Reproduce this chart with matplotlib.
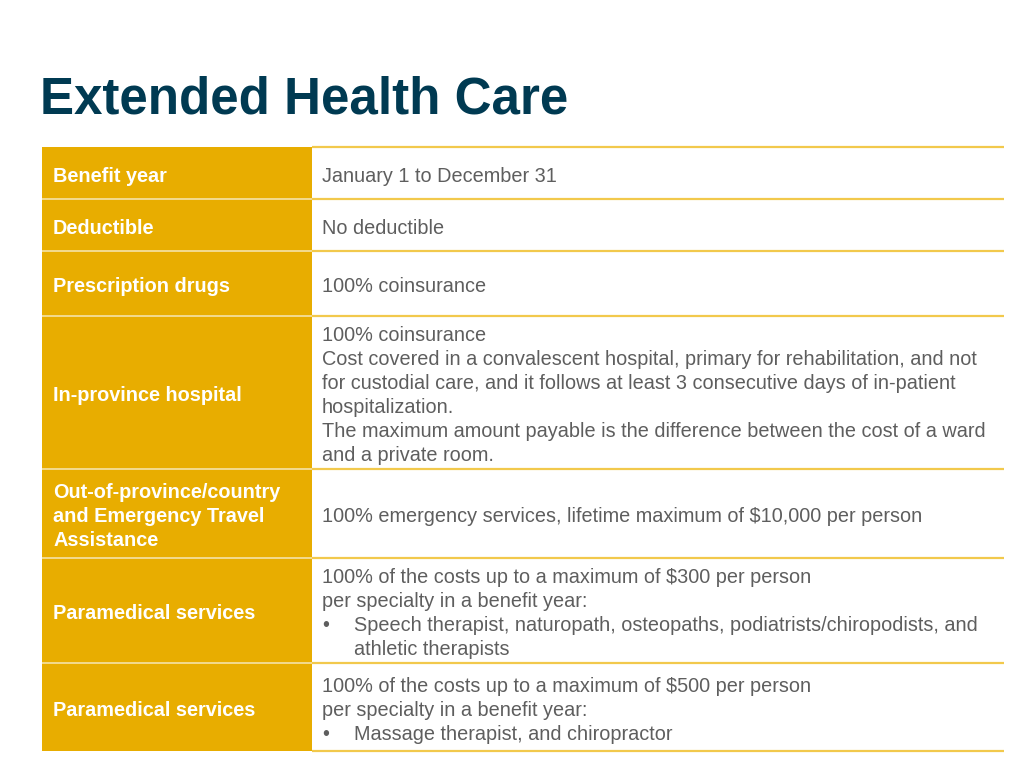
import matplotlib.pyplot as plt
from matplotlib.patches import Rectangle

plt.rcParams['font.family'] = ['Liberation Sans', 'DejaVu Sans']

title = "Extended Health Care"

labels = [
    ["Benefit year"],
    ["Deductible"],
    ["Prescription drugs"],
    ["In-province hospital"],
    ["Out-of-province/country", "and Emergency Travel", "Assistance"],
    ["Paramedical services"],
    ["Paramedical services"],
]

# each content line: (text, is_bullet); None = continuation of a bullet
contents = [
    [("January 1 to December 31", False)],
    [("No deductible", False)],
    [("100% coinsurance", False)],
    [("100% coinsurance", False),
     ("Cost covered in a convalescent hospital, primary for rehabilitation, and not", False),
     ("for custodial care, and it follows at least 3 consecutive days of in-patient", False),
     ("hospitalization.", False),
     ("The maximum amount payable is the difference between the cost of a ward", False),
     ("and a private room.", False)],
    [("100% emergency services, lifetime maximum of $10,000 per person", False)],
    [("100% of the costs up to a maximum of $300 per person", False),
     ("per specialty in a benefit year:", False),
     ("Speech therapist, naturopath, osteopaths, podiatrists/chiropodists, and", True),
     ("athletic therapists", None)],
    [("100% of the costs up to a maximum of $500 per person", False),
     ("per specialty in a benefit year:", False),
     ("Massage therapist, and chiropractor", True)],
]

# row edges in pixels (layout)
row_edges = [147, 199, 251, 316, 469, 558, 663, 751]

GOLD = "#E8AD00"
LINE = "#F2C94C"
GREY = "#5E5E5E"
NAVY = "#003A52"

fig = plt.figure(figsize=(10.24, 7.68), dpi=100)
ax = fig.add_axes([0, 0, 1, 1])
ax.set_xlim(0, 1024)
ax.set_ylim(768, 0)
ax.axis("off")

ax.text(40, 114, title, fontsize=36.8, fontweight="bold", color=NAVY,
        va="baseline", ha="left")

x0, xs, x1 = 42, 312, 1004
lh = 24
fs = 14.3
dy = 3

for i, lab in enumerate(labels):
    top, bot = row_edges[i], row_edges[i + 1]
    ax.add_patch(Rectangle((x0, top), xs - x0, bot - top, facecolor=GOLD,
                           edgecolor="none"))
    mid = (top + bot) / 2 + dy
    n = len(lab)
    for j, s in enumerate(lab):
        y = mid + (j - (n - 1) / 2) * lh
        ax.text(53, y, s, fontsize=fs, fontweight="bold", color="white",
                va="center", ha="left")
    lines = contents[i]
    n = len(lines)
    for j, (s, bullet) in enumerate(lines):
        y = mid + (j - (n - 1) / 2) * lh
        if bullet is None or bullet:
            if bullet:
                ax.text(322, y, "\u2022", fontsize=fs, color=GREY,
                        va="center", ha="left")
            ax.text(354, y, s, fontsize=fs, color=GREY, va="center", ha="left")
        else:
            ax.text(322, y, s, fontsize=fs, color=GREY, va="center", ha="left")

for k, y in enumerate(row_edges):
    ax.plot([xs, x1], [y, y], color=LINE, lw=1.6, solid_capstyle="butt")
    if 0 < k < len(row_edges) - 1:
        ax.plot([x0, xs], [y, y], color="#F5E3A8", lw=1.2,
                solid_capstyle="butt")

fig.savefig("out.png", dpi=100)
